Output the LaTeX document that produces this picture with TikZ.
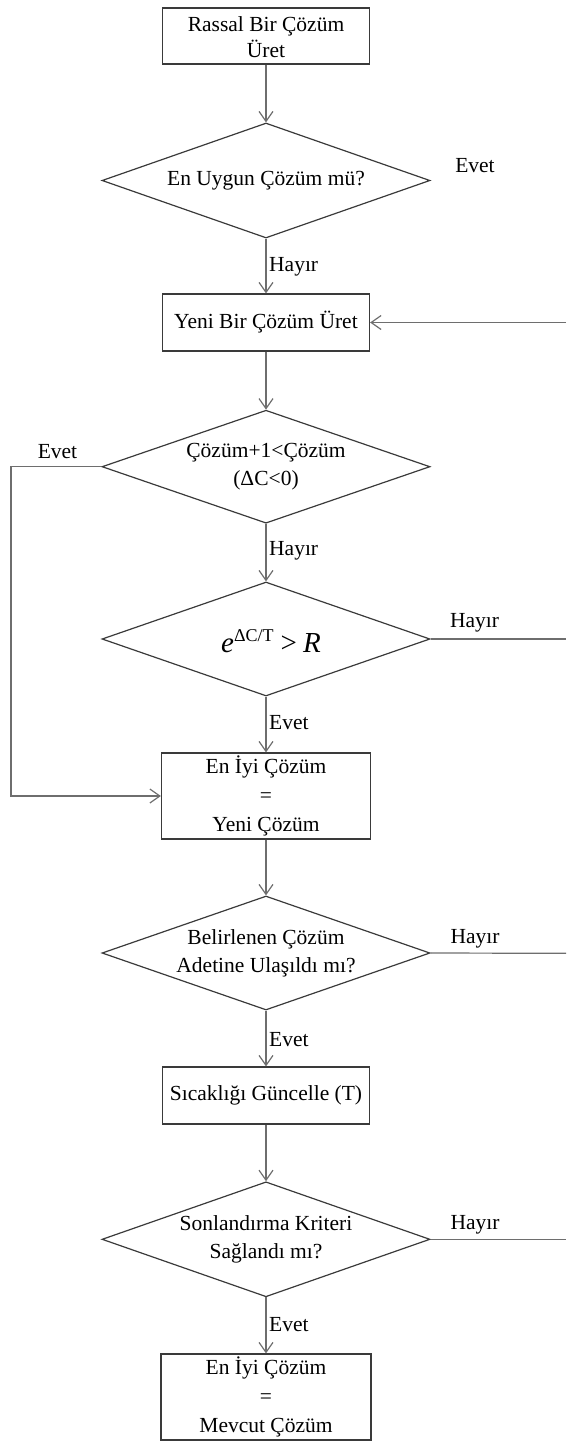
\documentclass[tikz,border=0pt]{standalone}
\usepackage{fontspec}
\setmainfont{Liberation Serif}
\usetikzlibrary{shapes.geometric,arrows.meta}
\definecolor{edgegray}{HTML}{6E6E6E}
\definecolor{framegray}{HTML}{3A3A3A}
\begin{document}
\begin{tikzpicture}[x=1pt,y=-1pt,
  font=\fontsize{21.5}{29}\selectfont,
  stepbox/.style={draw=framegray,line width=1.2pt,rectangle,minimum width=207pt,inner sep=0pt},
  dia/.style={draw=framegray,line width=1.2pt,diamond,minimum width=328pt,minimum height=115pt,inner sep=0pt},
  txt/.style={align=center,inner sep=0pt},
  lbl/.style={inner sep=0pt},
  conn/.style={draw=edgegray,line width=1.2pt},
  flow/.style={conn,-{Straight Barb[length=10pt,width=14pt,line width=1.2pt]}}
]
\useasboundingbox (0,0) rectangle (566,1441);

% process boxes and decisions
\node[stepbox,minimum height=56pt] (b1) at (266,36) {};
\node[txt,font=\fontsize{21.5}{26}\selectfont] (t1) at (266,37.5) {Rassal Bir Çözüm\\Üret};

\node[dia] (d1) at (266,180.5) {};
\node[txt] (t2) at (d1) {En Uygun Çözüm mü?};

\node[stepbox,minimum height=57pt] (b2) at (266,322.5) {};
\node[txt] (t3) at (b2) {Yeni Bir Çözüm Üret};

\node[dia,minimum height=113pt] (d2) at (266,466.7) {};
\node[txt,font=\fontsize{21.5}{28}\selectfont] (t4) at (d2) {Çözüm+1<Çözüm\\(ΔC<0)};

\node[dia,minimum height=114pt] (d3) at (266,639) {};
\node[txt] (t5) at (271,641) {\fontsize{29}{29}\selectfont\textit{e}\raisebox{11pt}{\fontsize{18}{18}\selectfont ΔC/T}\hspace{7pt}>\hspace{6pt}\textit{R}};

\node[stepbox,minimum height=86pt,minimum width=209pt] (b3) at (266,796) {};
\node[txt] (t6) at (b3) {En İyi Çözüm\\=\\Yeni Çözüm};

\node[dia,minimum height=114pt] (d4) at (266,953) {};
\node[txt,font=\fontsize{21.5}{28}\selectfont] (t7) at (d4) {Belirlenen Çözüm\\Adetine Ulaşıldı mı?};

\node[stepbox,minimum height=57pt] (b4) at (266,1095.5) {};
\node[txt] (t8) at (b4) {Sıcaklığı Güncelle (T)};

\node[dia] (d5) at (266,1239.3) {};
\node[txt,font=\fontsize{21.5}{28}\selectfont] (t9) at (d5) {Sonlandırma Kriteri\\Sağlandı mı?};

\node[stepbox,minimum height=86pt,minimum width=210pt] (b5) at (266,1397) {};
\node[txt] (t10) at (b5) {En İyi Çözüm\\=\\Mevcut Çözüm};

% branch labels
\node[lbl] (l1) at (475,166) {Evet};
\node[lbl,anchor=west] (l2) at (269,267) {Hayır};
\node[lbl] (l3) at (57.5,452) {Evet};
\node[lbl,anchor=west] (l4) at (269,551) {Hayır};
\node[lbl] (l5) at (474.5,623) {Hayır};
\node[lbl,anchor=west] (l6) at (269,723) {Evet};
\node[lbl] (l7) at (475,939) {Hayır};
\node[lbl,anchor=west] (l8) at (269,1040) {Evet};
\node[lbl] (l9) at (475,1225) {Hayır};
\node[lbl,anchor=west] (l10) at (269,1325) {Evet};

% loose ends and bends
\coordinate (rin) at (566,322.5);
\coordinate (r3) at (566,639);
\coordinate (r4) at (566,953.3);
\coordinate (r5) at (566,1239.3);
\coordinate (lt) at (11,466.7);
\coordinate (lb) at (11,796);

% connectors
\draw[flow] (b1.south) -- (d1.north);
\draw[flow] (d1.south) -- (b2.north);
\draw[flow] (b2.south) -- (d2.north);
\draw[flow] (d2.south) -- (d3.north);
\draw[flow] (d3.south) -- (b3.north);
\draw[flow] (b3.south) -- (d4.north);
\draw[flow] (d4.south) -- (b4.north);
\draw[flow] (b4.south) -- (d5.north);
\draw[flow] (d5.south) -- (b5.north);
\draw[flow] (rin) -- (b2.east);
\draw[flow] (d2.west) -- (lt) -- (lb) -- (b3.west);
\draw[conn] (d3.east) -- (r3);
\draw[conn] (d4.east) -- (r4);
\draw[conn] (d5.east) -- (r5);
\end{tikzpicture}
\end{document}
